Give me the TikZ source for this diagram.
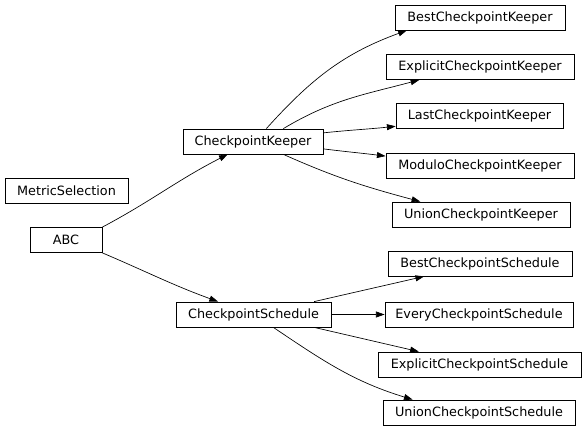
\documentclass[tikz,border=0pt]{standalone}
\usepackage{fontspec}
\setmainfont{DejaVu Sans}
\usetikzlibrary{arrows.meta}

\begin{document}
\begin{tikzpicture}[x=0.75pt, y=-0.75pt,
	cls/.style={draw, fill=white, line width=0.6pt, inner sep=0pt,
		minimum height=25*0.75pt, minimum width=#1*0.75pt,
		font=\fontsize{9.6}{11}\selectfont},
	inh/.style={-{Triangle[length=6.5pt,width=4.5pt]}, line width=0.5pt}]
	\useasboundingbox[fill=white] (0,0) rectangle (587,431);
	
	% Nodes
	\node[cls=123] (metric) at (66.5,190.5) {MetricSelection};
	\node[cls=72] (abc) at (66,240) {ABC};
	\node[cls=140] (keeper) at (253,141.5) {CheckpointKeeper};
	\node[cls=155] (schedule) at (253.5,314.5) {CheckpointSchedule};
	
	\node[cls=170] (bestkeeper) at (480,17.5) {BestCheckpointKeeper};
	\node[cls=188] (explicitkeeper) at (480,67) {ExplicitCheckpointKeeper};
	\node[cls=167] (lastkeeper) at (479.5,116) {LastCheckpointKeeper};
	\node[cls=188] (modulokeeper) at (480,166) {ModuloCheckpointKeeper};
	\node[cls=178] (unionkeeper) at (481,214.5) {UnionCheckpointKeeper};
	
	\node[cls=184] (bestsched) at (480,263.5) {BestCheckpointSchedule};
	\node[cls=188] (everysched) at (479,314.5) {EveryCheckpointSchedule};
	\node[cls=203] (explicitsched) at (479.5,364.5) {ExplicitCheckpointSchedule};
	\node[cls=192] (unionsched) at (479,412.5) {UnionCheckpointSchedule};
	
	% Edges
	\draw[inh] (abc.north east) to[out=28, in=207] (keeper);
	\draw[inh] (abc.south east) to[out=-23, in=160] (schedule);
	
	\draw[inh] (keeper.44) to[out=48, in=200] (bestkeeper.190);
	\draw[inh] (keeper.23) to[out=31, in=195] (explicitkeeper.192);
	\draw[inh] (keeper.7) to[out=6, in=186] (lastkeeper.187);
	\draw[inh] (keeper.-6) to[out=-7, in=173] (modulokeeper.174);
	\draw[inh] (keeper.-23) to[out=-24, in=165] (unionkeeper.168);
	
	\draw[inh] (schedule.12) to[out=13, in=193] (bestsched.193);
	\draw[inh] (schedule) -- (everysched);
	\draw[inh] (schedule.-12) to[out=-13, in=167] (explicitsched.168);
	\draw[inh] (schedule.-33) to[out=-34, in=163] (unionsched.169);
	
\end{tikzpicture}
\end{document}
